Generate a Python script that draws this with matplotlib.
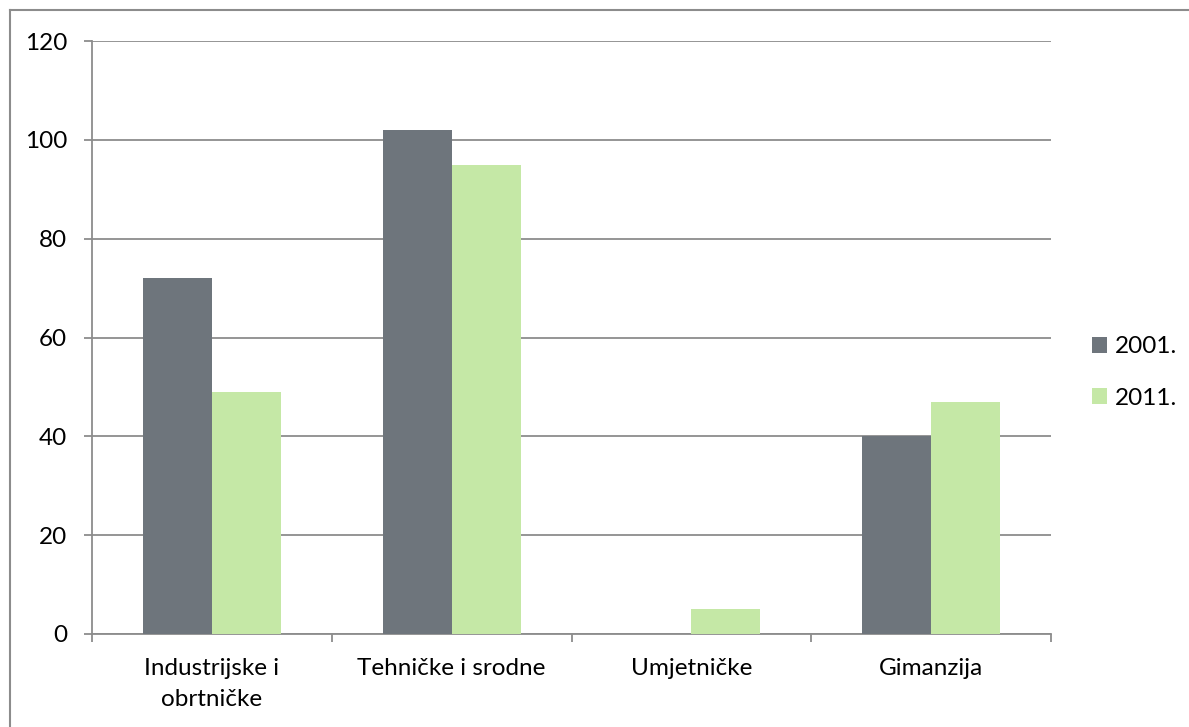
import numpy as np
import matplotlib.pyplot as plt
from matplotlib.lines import Line2D

# Data
categories = ["Industrijske i\nobrtničke", "Tehničke i srodne", "Umjetničke", "Gimanzija"]
years = ["2001.", "2011."]
values_2001 = [72, 102, 0, 40]
values_2011 = [49, 95, 5, 47]

colors = ["#6E757C", "#C5E8A6"]
grid_color = "#8C8C8C"
fs = 17.5

plt.rcParams['font.family'] = ['Lato', 'DejaVu Sans']

fig = plt.figure(figsize=(11.89, 7.27), dpi=100)
ax = fig.add_axes([92 / 1189, 1 - 634 / 727, (1051 - 92) / 1189, (634 - 41) / 727])

x = np.arange(len(categories))
w = 0.2875
ax.bar(x - w / 2, values_2001, w, color=colors[0], label=years[0], zorder=3)
ax.bar(x + w / 2, values_2011, w, color=colors[1], label=years[1], zorder=3)

ax.set_xlim(-0.5, len(categories) - 0.5)
ax.set_ylim(0, 120)
ax.set_yticks(range(0, 121, 20))
ax.yaxis.grid(True, color=grid_color, linewidth=1.3, zorder=0)

# category labels centred, ticks on boundaries
ax.set_xticks(x)
ax.set_xticklabels(categories, fontsize=fs, linespacing=1.6, va='top')
ax.set_xticks(np.arange(-0.5, len(categories), 1.0), minor=True)
ax.tick_params(axis='x', which='major', length=0, pad=17)
ax.tick_params(axis='x', which='minor', length=6, width=1.3, color=grid_color, direction='out')
ax.tick_params(axis='y', length=6, width=1.3, color=grid_color, pad=12, labelsize=fs)

for s in ['top', 'right']:
    ax.spines[s].set_visible(False)
for s in ['left', 'bottom']:
    ax.spines[s].set_color(grid_color)
    ax.spines[s].set_linewidth(1.3)

ax.legend(loc='center left', bbox_to_anchor=(1.043, 0.441), frameon=False,
          handlelength=0.62, handleheight=0.62, handletextpad=0.3,
          labelspacing=1.25, borderpad=0, borderaxespad=0, fontsize=fs)

# outer chart border (cropped at right and bottom)
fig.add_artist(Line2D([10 / 1189, 10 / 1189], [0, 1 - 10 / 727], color=grid_color, lw=1.5))
fig.add_artist(Line2D([10 / 1189, 1], [1 - 10 / 727, 1 - 10 / 727], color=grid_color, lw=1.5))

fig.savefig("out.png", dpi=100)
